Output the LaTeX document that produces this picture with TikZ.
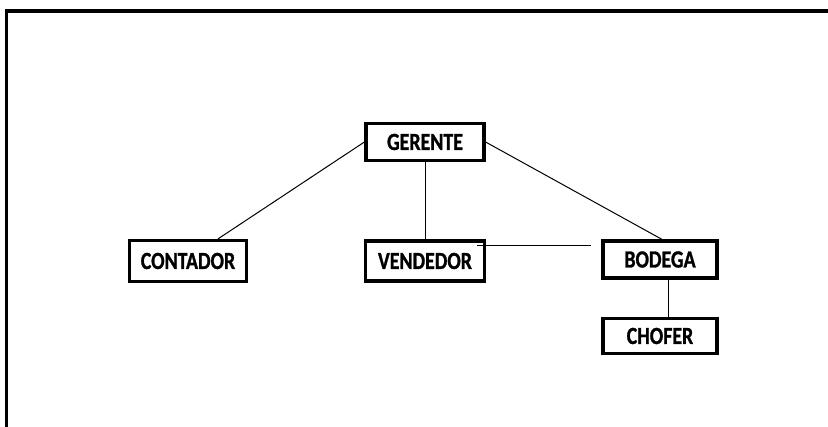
\documentclass[tikz,border=0pt]{standalone}
\usepackage{fontspec}
\usepackage{graphicx}
\setmainfont{Carlito}[BoldFeatures={FakeBold=1.2}]
\usetikzlibrary{calc}
\newcommand\tallt[1]{\scalebox{0.97}[1.2]{#1}}
\tikzset{
  orgbox/.style={draw=black, line width=3.2pt, fill=white, inner sep=0pt,
    font=\bfseries\fontsize{20.5}{24}\selectfont},
  link/.style={draw=black, line width=1pt}
}
\begin{document}
\begin{tikzpicture}[x=1pt,y=-1pt]
\useasboundingbox (0,0) rectangle (828,427);
% frame
\draw[line width=3.7pt] (5,11) -- (828,11);
\draw[line width=2.2pt] (6.5,9.2) -- (6.5,427);
% free ends of the horizontal connector
\coordinate (h1) at (477,246);
\coordinate (h2) at (591,246);
% nodes
\node[orgbox, minimum width=118pt, minimum height=37pt] (g) at (425,142) {\tallt{GERENTE}};
\node[orgbox, minimum width=117pt, minimum height=41pt] (c) at (188,261) {\tallt{CONTADOR}};
\node[orgbox, minimum width=119pt, minimum height=40pt] (v) at (425,261) {\tallt{VENDEDOR}};
\node[orgbox, minimum width=114pt, minimum height=37pt] (b) at (660,259.5) {\tallt{BODEGA}};
\node[orgbox, minimum width=114pt, minimum height=35pt] (ch) at (660,336) {\tallt{CHOFER}};
\draw[link] (g.west) -- ($(c.north)+(30,0)$);
\draw[link] (g.east) -- ($(b.north)+(2,0)$);
\draw[link] (g.south) -- (v.north);
\draw[link] (h1) -- (h2);
\draw[link] ($(b.south)+(8,0)$) -- ($(ch.north)+(8,0)$);
\end{tikzpicture}
\end{document}
